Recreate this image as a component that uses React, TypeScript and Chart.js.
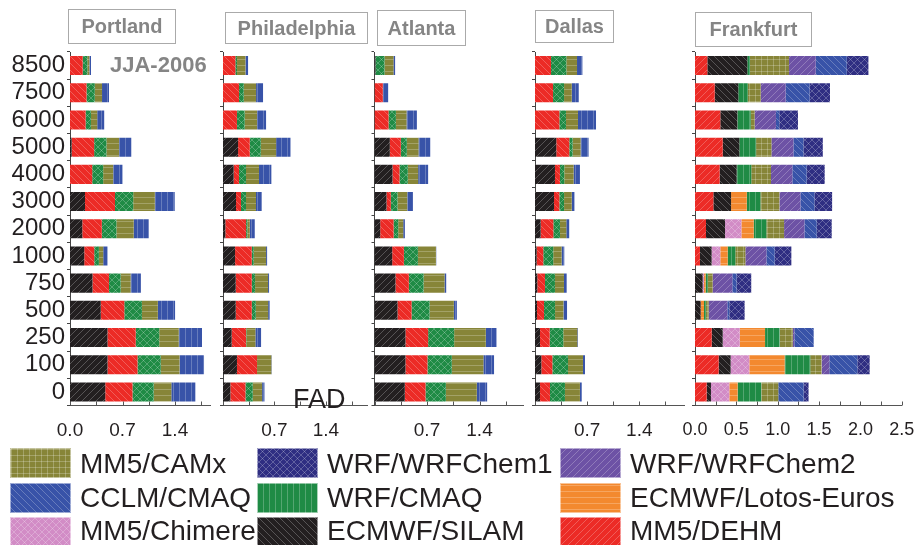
import { useEffect, useRef } from 'react';
import { Chart, registerables } from 'chart.js';

Chart.register(...registerables);

const FONT = '"Liberation Sans", Arial, Helvetica, sans-serif';

// Altitude classes (m), listed from the top row down
const heights = ['8500', '7500', '6000', '5000', '4000', '3000', '2000', '1000', '750', '500', '250', '100', '0'];

// Portland
const portlandSILAM = [0, 0, 0, 0.022, 0, 0.2, 0.164, 0.19, 0.3, 0.41, 0.5, 0.5, 0.47];
const portlandDEHM = [0.169, 0.22, 0.208, 0.3, 0.296, 0.4, 0.26, 0.133, 0.22, 0.314, 0.376, 0.4, 0.363];
const portlandWRFCMAQ = [0.062, 0.11, 0.071, 0.164, 0.146, 0.243, 0.195, 0.062, 0.155, 0.235, 0.314, 0.31, 0.283];
const portlandCAMx = [0.027, 0.097, 0.084, 0.168, 0.133, 0.288, 0.23, 0.058, 0.133, 0.212, 0.26, 0.25, 0.235];
const portlandCCLM = [0.022, 0.093, 0.093, 0.164, 0.124, 0.265, 0.2, 0.058, 0.137, 0.23, 0.31, 0.327, 0.32];

// Philadelphia
const philaSILAM = [0, 0, 0, 0.205, 0.145, 0.177, 0.032, 0.164, 0.173, 0.173, 0.118, 0.19, 0.1];
const philaDEHM = [0.168, 0.218, 0.19, 0.159, 0.073, 0.068, 0.282, 0.227, 0.218, 0.218, 0.195, 0.273, 0.205];
const philaWRFCMAQ = [0.023, 0.064, 0.105, 0.15, 0.095, 0.068, 0.018, 0.027, 0.045, 0.055, 0.005, 0, 0.1];
const philaCAMx = [0.114, 0.168, 0.168, 0.209, 0.177, 0.136, 0.032, 0.168, 0.177, 0.168, 0.123, 0.195, 0.127];
const philaCCLM = [0.036, 0.095, 0.123, 0.195, 0.168, 0.077, 0.068, 0.014, 0.014, 0.023, 0.077, 0.005, 0.032];

// Atlanta
const atlantaSILAM = [0.013, 0, 0, 0.204, 0.24, 0.16, 0.076, 0.236, 0.28, 0.307, 0.413, 0.413, 0.404];
const atlantaDEHM = [0, 0.111, 0.187, 0.147, 0.093, 0.058, 0.178, 0.156, 0.178, 0.187, 0.302, 0.293, 0.276];
const atlantaWRFCMAQ = [0.12, 0, 0.098, 0.08, 0.111, 0.089, 0.062, 0.187, 0.196, 0.24, 0.347, 0.324, 0.271];
const atlantaCAMx = [0.12, 0, 0.142, 0.156, 0.138, 0.129, 0.067, 0.24, 0.28, 0.324, 0.422, 0.422, 0.413];
const atlantaCCLM = [0.022, 0.071, 0.138, 0.156, 0.133, 0.076, 0.022, 0.004, 0.022, 0.04, 0.142, 0.142, 0.138];

// Dallas
const dallasSILAM = [0, 0, 0, 0.286, 0.268, 0.255, 0.076, 0.022, 0.031, 0.027, 0.067, 0.085, 0.067];
const dallasDEHM = [0.215, 0.242, 0.327, 0.174, 0.067, 0.072, 0.17, 0.089, 0.103, 0.094, 0.13, 0.148, 0.134];
const dallasWRFCMAQ = [0.206, 0.148, 0.089, 0.045, 0.058, 0.063, 0.089, 0.134, 0.134, 0.148, 0.183, 0.21, 0.201];
const dallasCAMx = [0.143, 0.103, 0.161, 0.107, 0.125, 0.103, 0.085, 0.112, 0.121, 0.112, 0.188, 0.201, 0.201];
const dallasCCLM = [0.072, 0.094, 0.242, 0.107, 0.085, 0.036, 0.04, 0.036, 0.036, 0.049, 0.009, 0.027, 0.027];

// Frankfurt
const frankfurtDEHM = [0.149, 0.238, 0.306, 0.335, 0.298, 0.222, 0.133, 0.06, 0, 0, 0.202, 0.286, 0.141];
const frankfurtSILAM = [0.484, 0.286, 0.206, 0.202, 0.206, 0.214, 0.23, 0.141, 0.093, 0.069, 0.133, 0.145, 0.052];
const frankfurtChimere = [0, 0, 0, 0, 0, 0, 0.198, 0.105, 0.016, 0, 0.206, 0.226, 0.222];
const frankfurtLotos = [0, 0, 0, 0, 0, 0.19, 0.149, 0.089, 0.02, 0.04, 0.306, 0.427, 0.1];
const frankfurtWRFCMAQ = [0.032, 0.113, 0.161, 0.202, 0.177, 0.165, 0.153, 0.093, 0.028, 0.02, 0.177, 0.31, 0.286];
const frankfurtCAMx = [0.472, 0.157, 0.048, 0.185, 0.238, 0.23, 0.214, 0.121, 0.056, 0.036, 0.157, 0.137, 0.206];
const frankfurtChem2 = [0.323, 0.302, 0.258, 0.266, 0.258, 0.254, 0.246, 0.254, 0.238, 0.226, 0.02, 0.093, 0];
const frankfurtCCLM = [0.375, 0.29, 0.04, 0.121, 0.173, 0.169, 0.149, 0.1, 0.052, 0.024, 0.234, 0.339, 0.306];
const frankfurtChem1 = [0.262, 0.246, 0.226, 0.234, 0.218, 0.214, 0.181, 0.202, 0.177, 0.185, 0, 0.149, 0.06];

type Hatch = 'fwd' | 'back' | 'cross' | 'horiz' | 'vert' | 'grid';

const C = {
  olive: '#878538',
  navy: '#2f2e82',
  purple: '#6d52a5',
  blue: '#3853a8',
  green: '#1f8b45',
  orange: '#f3892f',
  pink: '#d28cc6',
  black: '#231f20',
  red: '#ec2b26',
};

function hatchPattern(color: string, hatch: Hatch): CanvasPattern {
  const s = hatch === 'horiz' || hatch === 'vert' || hatch === 'grid' ? 6 : 7;
  const c = document.createElement('canvas');
  c.width = s;
  c.height = s;
  const g = c.getContext('2d')!;
  g.fillStyle = color;
  g.fillRect(0, 0, s, s);
  g.strokeStyle = 'rgba(255,255,255,0.3)';
  g.lineWidth = 0.8;
  const line = (x1: number, y1: number, x2: number, y2: number) => {
    g.beginPath();
    g.moveTo(x1, y1);
    g.lineTo(x2, y2);
    g.stroke();
  };
  if (hatch === 'fwd' || hatch === 'cross') {
    line(-1, s + 1, s + 1, -1);
    line(-1, 1, 1, -1);
    line(s - 1, s + 1, s + 1, s - 1);
  }
  if (hatch === 'back' || hatch === 'cross') {
    line(-1, -1, s + 1, s + 1);
    line(s - 1, -1, s + 1, 1);
    line(-1, s - 1, 1, s + 1);
  }
  if (hatch === 'horiz' || hatch === 'grid') line(0, s - 0.5, s, s - 0.5);
  if (hatch === 'vert' || hatch === 'grid') line(s - 0.5, 0, s - 0.5, s);
  return g.createPattern(c, 'repeat')!;
}

const usNames = ['ECMWF/SILAM', 'MM5/DEHM', 'WRF/CMAQ', 'MM5/CAMx', 'CCLM/CMAQ'];
const usStyles: [string, Hatch][] = [
  [C.black, 'fwd'],
  [C.red, 'back'],
  [C.green, 'cross'],
  [C.olive, 'horiz'],
  [C.blue, 'vert'],
];

const euNames = [
  'MM5/DEHM', 'ECMWF/SILAM', 'MM5/Chimere', 'ECMWF/Lotos-Euros', 'WRF/CMAQ',
  'MM5/CAMx', 'WRF/WRFChem2', 'CCLM/CMAQ', 'WRF/WRFChem1',
];
const euStyles: [string, Hatch][] = [
  [C.red, 'fwd'],
  [C.black, 'back'],
  [C.pink, 'cross'],
  [C.orange, 'horiz'],
  [C.green, 'vert'],
  [C.olive, 'grid'],
  [C.purple, 'fwd'],
  [C.blue, 'back'],
  [C.navy, 'cross'],
];

interface Panel {
  title: string;
  names: string[];
  styles: [string, Hatch][];
  series: number[][];
  left: number; // x pixel of the value axis origin
  ppu: number; // pixels per unit
  max: number;
  step: number;
  labelStep: number;
  showZero: boolean;
  tickFont: number;
  showY: boolean;
  yWidth: number;
  box: [number, number, number, number];
}

const panels: Panel[] = [
  {
    title: 'Portland', names: usNames, styles: usStyles,
    series: [portlandSILAM, portlandDEHM, portlandWRFCMAQ, portlandCAMx, portlandCCLM],
    left: 70, ppu: 75, max: 1.87, step: 0.35, labelStep: 0.7, showZero: true, tickFont: 19, showY: true,
    yWidth: 70, box: [68, 9, 108, 35],
  },
  {
    title: 'Philadelphia', names: usNames, styles: usStyles,
    series: [philaSILAM, philaDEHM, philaWRFCMAQ, philaCAMx, philaCCLM],
    left: 223, ppu: 73.5, max: 1.97, step: 0.35, labelStep: 0.7, showZero: false, tickFont: 19, showY: false,
    yWidth: 8, box: [225, 12, 143, 32],
  },
  {
    title: 'Atlanta', names: usNames, styles: usStyles,
    series: [atlantaSILAM, atlantaDEHM, atlantaWRFCMAQ, atlantaCAMx, atlantaCCLM],
    left: 374.5, ppu: 75, max: 1.99, step: 0.35, labelStep: 0.7, showZero: false, tickFont: 19, showY: false,
    yWidth: 8, box: [377, 10, 89, 36],
  },
  {
    title: 'Dallas', names: usNames, styles: usStyles,
    series: [dallasSILAM, dallasDEHM, dallasWRFCMAQ, dallasCAMx, dallasCCLM],
    left: 535, ppu: 74.5, max: 2.0, step: 0.35, labelStep: 0.7, showZero: false, tickFont: 19, showY: false,
    yWidth: 8, box: [535, 10, 79, 33],
  },
  {
    title: 'Frankfurt', names: euNames, styles: euStyles,
    series: [
      frankfurtDEHM, frankfurtSILAM, frankfurtChimere, frankfurtLotos, frankfurtWRFCMAQ,
      frankfurtCAMx, frankfurtChem2, frankfurtCCLM, frankfurtChem1,
    ],
    left: 695, ppu: 82.7, max: 2.5, step: 0.25, labelStep: 0.5, showZero: true, tickFont: 18, showY: false,
    yWidth: 8, box: [695, 12, 117, 35],
  },
];

// Legend entries in row-major order (3 columns)
const legendNames = [
  'MM5/CAMx', 'WRF/WRFChem1', 'WRF/WRFChem2',
  'CCLM/CMAQ', 'WRF/CMAQ', 'ECMWF/Lotos-Euros',
  'MM5/Chimere', 'ECMWF/SILAM', 'MM5/DEHM',
];
const legendStyles: [string, Hatch][] = [
  [C.olive, 'grid'], [C.navy, 'cross'], [C.purple, 'fwd'],
  [C.blue, 'back'], [C.green, 'vert'], [C.orange, 'horiz'],
  [C.pink, 'cross'], [C.black, 'back'], [C.red, 'fwd'],
];
const legendSwatchX = [10, 257, 560];
const legendTextX = [80, 327, 630];
const legendSwatchY = [448, 483, 517];
const legendTextMid = [464, 498, 531];

const W = 917;
const H = 545;
const AREA_TOP = 52;
const AREA_BOTTOM = 405.5;
const X_AXIS_H = 34;

const innerTicks = {
  id: 'innerTicks',
  afterDraw(chart: any) {
    const xs = chart.scales.x;
    const ctx = chart.ctx as CanvasRenderingContext2D;
    const b = chart.chartArea.bottom;
    ctx.save();
    ctx.strokeStyle = '#555';
    ctx.lineWidth = 1;
    xs.ticks.forEach((t: any) => {
      const px = Math.round(xs.getPixelForValue(t.value)) + 0.5;
      ctx.beginPath();
      ctx.moveTo(px, b);
      ctx.lineTo(px, b - 4);
      ctx.stroke();
    });
    ctx.restore();
  },
};

export default function App() {
  const refs = [
    useRef<HTMLCanvasElement>(null),
    useRef<HTMLCanvasElement>(null),
    useRef<HTMLCanvasElement>(null),
    useRef<HTMLCanvasElement>(null),
    useRef<HTMLCanvasElement>(null),
  ];
  const legendRef = useRef<HTMLCanvasElement>(null);

  useEffect(() => {
    Chart.defaults.font.family = FONT;
    const charts = panels.map((p, i) => {
      const right = p.left + p.max * p.ppu;
      return new Chart(refs[i].current!, {
        type: 'bar',
        data: {
          labels: heights,
          datasets: p.series.map((vals, k) => ({
            label: p.names[k],
            data: vals,
            backgroundColor: hatchPattern(p.styles[k][0], p.styles[k][1]),
            borderWidth: 0,
            categoryPercentage: 1,
            barPercentage: 0.7,
          })),
        },
        options: {
          indexAxis: 'y',
          responsive: false,
          animation: false,
          devicePixelRatio: 1,
          events: [],
          layout: {
            padding: {
              left: p.left - p.yWidth,
              right: W - right,
              top: AREA_TOP,
              bottom: H - AREA_BOTTOM - X_AXIS_H,
            },
          },
          plugins: { legend: { display: false }, tooltip: { enabled: false } },
          scales: {
            x: {
              type: 'linear',
              stacked: true,
              min: 0,
              max: p.max,
              afterFit: (s: any) => {
                s.height = X_AXIS_H;
                s.paddingLeft = 0;
                s.paddingRight = 0;
              },
              grid: { display: false },
              border: { display: true, color: '#555', width: 1 },
              ticks: {
                stepSize: p.step,
                includeBounds: false,
                autoSkip: false,
                maxRotation: 0,
                padding: 6,
                color: '#231f20',
                font: { size: p.tickFont, family: FONT },
                callback: (v: any) => {
                  const n = Number(v);
                  const k = n / p.labelStep;
                  if (Math.abs(k - Math.round(k)) > 1e-6) return '';
                  if (Math.abs(n) < 1e-9 && !p.showZero) return '';
                  return n.toFixed(1);
                },
              },
            },
            y: {
              type: 'category',
              stacked: true,
              offset: true,
              afterFit: (s: any) => {
                s.width = p.yWidth;
                s.paddingTop = 0;
                s.paddingBottom = 0;
              },
              grid: {
                display: true,
                drawOnChartArea: false,
                drawTicks: true,
                tickLength: 3,
                offset: true,
                color: '#444',
              },
              border: { display: true, color: '#444', width: 1 },
              ticks: {
                display: p.showY,
                autoSkip: false,
                padding: 2,
                color: '#231f20',
                font: { size: 24, family: FONT },
              },
            },
          },
        } as any,
        plugins: [innerTicks],
      });
    });

    const lc = legendRef.current!;
    const g = lc.getContext('2d')!;
    g.clearRect(0, 0, W, H);
    legendStyles.forEach(([color, hatch], i) => {
      const col = i % 3;
      const row = Math.floor(i / 3);
      g.fillStyle = hatchPattern(color, hatch);
      g.fillRect(legendSwatchX[col], legendSwatchY[row], 61, 30);
      g.strokeStyle = 'rgba(255,255,255,0.5)';
      g.lineWidth = 1;
      g.strokeRect(legendSwatchX[col] + 0.5, legendSwatchY[row] + 0.5, 60, 29);
    });

    return () => charts.forEach((c) => c.destroy());
  }, []);

  const abs = { position: 'absolute' as const };

  return (
    <div
      style={{
        position: 'absolute', left: 0, top: 0, width: W, height: H, background: '#fff',
        overflow: 'hidden', fontFamily: FONT,
      }}
    >
      <canvas ref={legendRef} width={W} height={H} style={{ ...abs, left: 0, top: 0 }} />
      {panels.map((p, i) => (
        <canvas key={p.title} ref={refs[i]} width={W} height={H} style={{ ...abs, left: 0, top: 0 }} />
      ))}
      {panels.map((p) => (
        <div
          key={'t' + p.title}
          style={{
            ...abs, left: p.box[0], top: p.box[1], width: p.box[2], height: p.box[3],
            boxSizing: 'border-box', border: '1px solid #aaaaaa', display: 'flex',
            alignItems: 'center', justifyContent: 'center', color: '#858585',
            fontWeight: 'bold', fontSize: 20, whiteSpace: 'nowrap',
          }}
        >
          {p.title}
        </div>
      ))}
      <div style={{ ...abs, left: 110, top: 54, fontSize: 22, lineHeight: '22px', fontWeight: 'bold', color: '#858585' }}>
        JJA-2006
      </div>
      <div style={{ ...abs, left: 293, top: 386, fontSize: 27, lineHeight: '27px', color: '#231f20' }}>FAD</div>
      {legendNames.map((name, i) => {
        const col = i % 3;
        const row = Math.floor(i / 3);
        return (
          <div
            key={name}
            style={{
              ...abs, left: legendTextX[col], top: legendTextMid[row] - 14, fontSize: 28,
              lineHeight: '28px', color: '#231f20', whiteSpace: 'nowrap',
            }}
          >
            {name}
          </div>
        );
      })}
    </div>
  );
}
